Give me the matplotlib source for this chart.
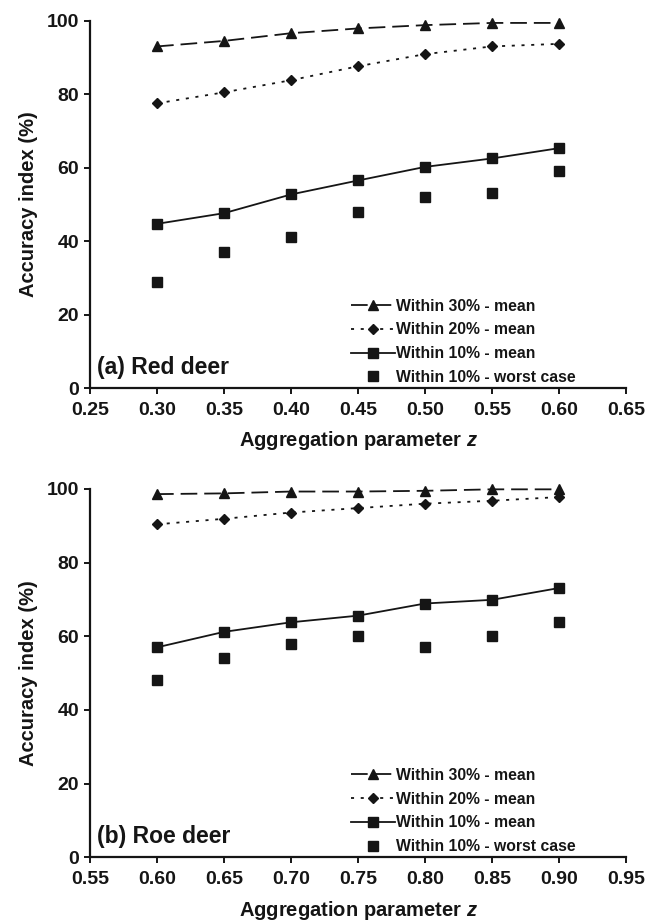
import matplotlib
matplotlib.use("Agg")
import matplotlib.pyplot as plt

plt.rcParams['font.family'] = ['Liberation Sans', 'DejaVu Sans']
plt.rcParams['font.weight'] = 'bold'
plt.rcParams['mathtext.fontset'] = 'custom'
plt.rcParams['mathtext.it'] = 'Liberation Sans:italic:bold'
plt.rcParams['mathtext.rm'] = 'Liberation Sans:bold'
plt.rcParams['lines.scale_dashes'] = False

# Red deer
z_red = [0.30, 0.35, 0.40, 0.45, 0.50, 0.55, 0.60]
red_w30_mean = [93.0, 94.5, 96.6, 97.9, 98.8, 99.4, 99.4]
red_w20_mean = [77.5, 80.5, 83.8, 87.6, 90.9, 93.0, 93.7]
red_w10_mean = [44.7, 47.6, 52.7, 56.5, 60.2, 62.5, 65.3]
red_w10_worst = [29, 37, 41, 48, 52, 53, 59]
red_xticks = [0.25, 0.30, 0.35, 0.40, 0.45, 0.50, 0.55, 0.60, 0.65]

# Roe deer
z_roe = [0.60, 0.65, 0.70, 0.75, 0.80, 0.85, 0.90]
roe_w30_mean = [98.6, 98.8, 99.3, 99.3, 99.5, 99.9, 99.9]
roe_w20_mean = [90.4, 91.9, 93.6, 94.8, 96.0, 96.8, 97.8]
roe_w10_mean = [57.0, 61.2, 63.8, 65.6, 68.9, 69.9, 73.1]
roe_w10_worst = [48, 54, 58, 60, 57, 60, 64]
roe_xticks = [0.55, 0.60, 0.65, 0.70, 0.75, 0.80, 0.85, 0.90, 0.95]

yticks = [0, 20, 40, 60, 80, 100]
series_labels = ["Within 30% - mean", "Within 20% - mean",
                 "Within 10% - mean", "Within 10% - worst case"]

INK = '#151515'

fig = plt.figure(figsize=(6.6, 9.21), dpi=100)
ax_top = fig.add_axes([0.1364, 0.5787, 0.8121, 0.3988])
ax_bot = fig.add_axes([0.1364, 0.0692, 0.8121, 0.3999])


def draw_panel(ax, z, w30, w20, w10, worst, xticks, tag):
    ax.plot(z, w30, color=INK, lw=1.3, dashes=(12, 5), marker='^', ms=7,
            label=series_labels[0], clip_on=False)
    ax.plot(z, w20, color=INK, lw=1.3, dashes=(2.2, 4.8), marker='D', ms=4.6,
            label=series_labels[1], clip_on=False)
    ax.plot(z, w10, color=INK, lw=1.3, ls='-', marker='s', ms=6.5,
            label=series_labels[2], clip_on=False)
    ax.plot(z, worst, color=INK, ls='none', marker='s', ms=6.5,
            label=series_labels[3], clip_on=False)

    ax.set_xlim(xticks[0], xticks[-1])
    ax.set_ylim(0, 100)
    ax.set_xticks(xticks)
    ax.set_xticklabels([f"{v:.2f}" for v in xticks])
    ax.set_yticks(yticks)
    for s in ('top', 'right'):
        ax.spines[s].set_visible(False)
    for s in ('left', 'bottom'):
        ax.spines[s].set_linewidth(1.6)
        ax.spines[s].set_color(INK)
    ax.tick_params(axis='both', direction='out', length=4, width=1.4,
                   color=INK, labelsize=14, labelcolor=INK)
    ax.tick_params(axis='x', pad=6)
    ax.tick_params(axis='y', pad=4)

    ax.set_xlabel(r"Aggregation parameter $z$", fontsize=14.5,
                  fontweight='bold', color=INK, va='top')
    ax.xaxis.set_label_coords(0.5, -0.112)
    ax.set_ylabel("Accuracy index (%)", fontsize=14.5, fontweight='bold',
                  color=INK, va='center')
    ax.yaxis.set_label_coords(-0.115, 0.5)

    ax.text(0.013, 0.056, tag, transform=ax.transAxes, fontsize=16.5,
            fontweight='bold', color=INK, ha='left', va='center')

    ax.legend(loc='lower left', bbox_to_anchor=(0.481, 0.0), frameon=False,
              fontsize=11.3, handlelength=2.8, handletextpad=0.1,
              labelspacing=0.56, borderpad=0.2, borderaxespad=0.0,
              labelcolor=INK)


draw_panel(ax_top, z_red, red_w30_mean, red_w20_mean, red_w10_mean,
           red_w10_worst, red_xticks, "(a) Red deer")
draw_panel(ax_bot, z_roe, roe_w30_mean, roe_w20_mean, roe_w10_mean,
           roe_w10_worst, roe_xticks, "(b) Roe deer")

fig.savefig("out.png", dpi=100, facecolor='white')
